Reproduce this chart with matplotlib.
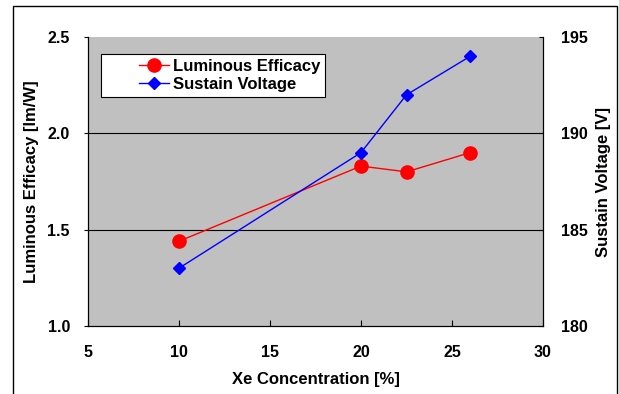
import matplotlib
matplotlib.use("Agg")
import matplotlib.pyplot as plt
from matplotlib.patches import Rectangle
from matplotlib.legend_handler import HandlerLine2D

xe = [10, 20, 22.5, 26]
efficacy = [1.44, 1.83, 1.80, 1.90]
voltage = [183, 189, 192, 194]
x_ticks = [5, 10, 15, 20, 25, 30]
left_ticks = [1.0, 1.5, 2.0, 2.5]
right_ticks = [180, 185, 190, 195]

plt.rcParams['font.family'] = ['Liberation Sans', 'DejaVu Sans']
plt.rcParams['font.weight'] = 'bold'
plt.rcParams['axes.labelweight'] = 'bold'

fig = plt.figure(figsize=(6.19, 3.94), dpi=100)
W, H = 619, 394
L, R, T, B = 88, 543, 37, 326
ax = fig.add_axes([L / W, 1 - B / H, (R - L) / W, (B - T) / H])
ax.set_facecolor('#c0c0c0')
ax.set_xlim(5, 30)
ax.set_ylim(1.0, 2.5)
ax.set_xticks(x_ticks)
ax.set_xticklabels([str(v) for v in x_ticks])
ax.set_yticks(left_ticks)
ax.set_yticklabels([f"{v:.1f}" for v in left_ticks])
for y in left_ticks[1:-1]:
    ax.axhline(y, color='black', lw=0.8, zorder=1)
ax.tick_params(axis='x', direction='in', length=4, pad=14, width=0.8, labelsize=11.5)
ax.tick_params(axis='y', direction='out', length=3, pad=10, width=0.8, labelsize=11.5)
for s in ax.spines.values():
    s.set_linewidth(0.8)
ax.spines['top'].set_visible(False)

ax2 = ax.twinx()
ax2.set_ylim(180, 195)
ax2.set_yticks(right_ticks)
ax2.set_yticklabels([str(v) for v in right_ticks])
ax2.tick_params(axis='y', direction='in', length=3, pad=13, width=0.8, labelsize=11.5)
for s in ax2.spines.values():
    s.set_linewidth(0.8)
ax2.spines['top'].set_visible(False)

l1, = ax.plot(xe, efficacy, color='#ff0000', lw=1.0, marker='o', markersize=9.5,
              label='Luminous Efficacy', zorder=3)
l2, = ax2.plot(xe, voltage, color='#0000ff', lw=1.0, marker='D', markersize=6.5,
               label='Sustain Voltage', zorder=3)

ax.set_xlabel('Xe Concentration [%]', fontsize=12, fontweight='bold', labelpad=8)
ax.set_ylabel('Luminous Efficacy [lm/W]', fontsize=12, fontweight='bold', labelpad=6)
ax2.set_ylabel('Sustain Voltage [V]', fontsize=12, fontweight='bold', labelpad=6)

hm = {l1: HandlerLine2D(xpad=2.0), l2: HandlerLine2D(xpad=2.0)}
leg = ax.legend(handles=[l1, l2], loc='upper left', handler_map=hm,
                bbox_to_anchor=((101 - L) / (R - L), (B - 54) / (B - T)),
                prop={'family': 'Liberation Sans', 'weight': 'bold', 'size': 12},
                frameon=True, fancybox=False, edgecolor='black',
                framealpha=1, borderpad=0.3, handlelength=3.8, handletextpad=0.2,
                labelspacing=0.15, borderaxespad=0)
leg.get_frame().set_linewidth(0.8)

for t in ax.get_xticklabels() + ax.get_yticklabels() + ax2.get_yticklabels():
    t.set_fontweight('bold')

fig.patches.append(Rectangle((13 / W, -0.1), (617 - 13) / W, 1.1 - 6 / H,
                             transform=fig.transFigure, fill=False,
                             edgecolor='black', lw=1.0))

fig.savefig('out.png', dpi=100)
